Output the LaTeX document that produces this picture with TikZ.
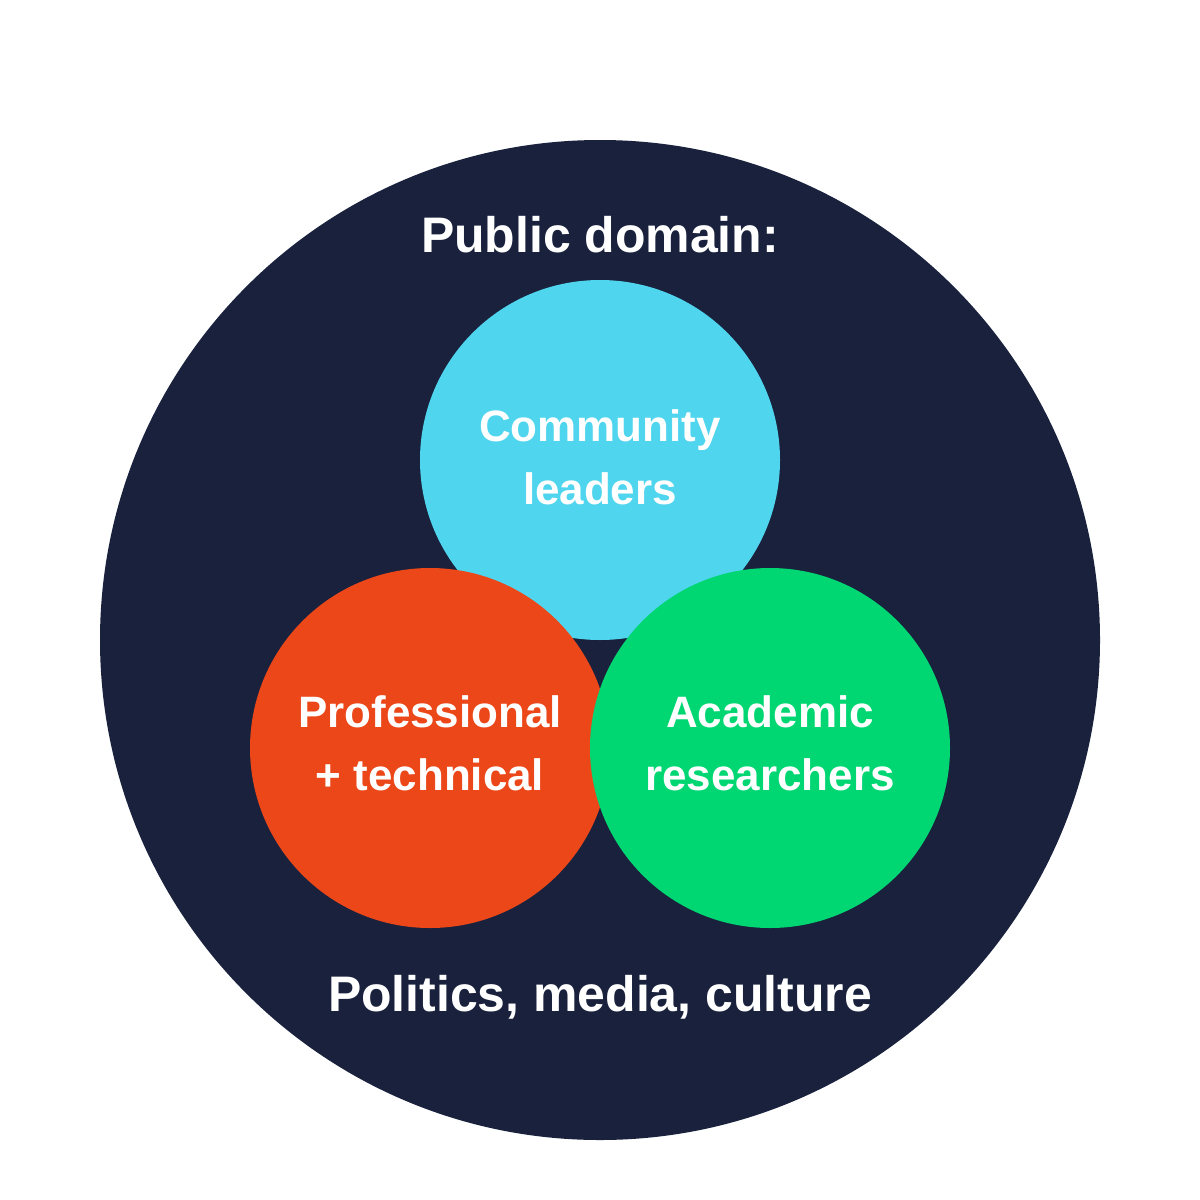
\documentclass[tikz,border=0pt]{standalone}
\usepackage{fontspec}
\setmainfont{Liberation Sans}
\begin{document}
\begin{tikzpicture}[x=0.01cm,y=-0.01cm,
  lbl/.style={text=white,font=\bfseries\fontsize{12.5pt}{18pt}\selectfont,align=center},
  big/.style={text=white,font=\bfseries\fontsize{14.2pt}{17pt}\selectfont}]
\definecolor{navy}{HTML}{19213D}
\definecolor{cyanc}{HTML}{4FD5EE}
\definecolor{redc}{HTML}{EB4719}
\definecolor{greenc}{HTML}{00D672}
\useasboundingbox (0,0) rectangle (1200,1200);
\fill[navy] (600,640) circle (500);
\fill[cyanc] (600,460) circle (180);
\fill[redc] (430,748) circle (180);
\fill[greenc] (770,748) circle (180);
\node[big] (top) at (600,235) {Public domain:};
\node[big] (bot) at (600,997) {Politics, media, culture};
\node[lbl] (c) at (600,457) {Community\\leaders};
\node[lbl] (p) at (430,743) {Professional\\+ technical};
\node[lbl] (a) at (770,743) {Academic\\researchers};
\end{tikzpicture}
\end{document}
